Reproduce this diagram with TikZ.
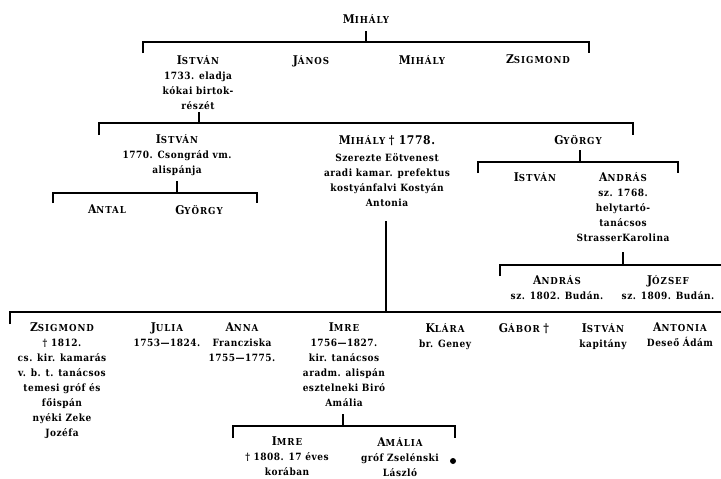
\documentclass[tikz,border=0pt]{standalone}
\usepackage{fontspec}
\setmainfont{DejaVu Serif Condensed}[LetterSpace=5]
\newfontfamily\nmfont{DejaVu Serif Condensed}[LetterSpace=10]
\newcommand\nm[2]{{\nmfont\bfseries\fontsize{12}{15}\selectfont #1\fontsize{9.6}{15}\selectfont #2}}
\newcommand\dgr[1]{{\fontsize{12}{15}\selectfont #1}}
\begin{document}
\begin{tikzpicture}[x=1pt,y=-1pt,
  person/.style={anchor=north, align=center, inner sep=0pt, font=\bfseries\fontsize{10}{15}\selectfont},
  tree/.style={line width=1.6pt, line join=miter}]
\useasboundingbox (0,0) rectangle (721,479);
% level 0
\node[person] (m0) at (366,14) {\nm{M}{IHÁLY}};
% level 1
\node[person] (i1) at (198,55) {\nm{I}{STVÁN}\\1733. eladja\\kókai birtok-\\részét};
\node[person] (j1) at (311,55) {\nm{J}{ÁNOS}};
\node[person] (m1) at (422,55) {\nm{M}{IHÁLY}};
\node[person] (z1) at (538,55) {\nm{Z}{SIGMOND}};
% level 2
\node[person] (i2) at (177,134) {\nm{I}{STVÁN}\\1770. Csongrád vm.\\alispánja};
\node[person] (m2) at (387,135) {\nm{M}{IHÁLY}~\dgr{† 1778.}\\[2pt]Szerezte Eötvenest\\aradi kamar. prefektus\\kostyánfalvi Kostyán\\Antonia};
\node[person] (g2) at (578,135) {\nm{G}{YÖRGY}};
% level 3
\node[person] (a3) at (107,205) {\nm{A}{NTAL}};
\node[person] (gy3) at (199,205) {\nm{G}{YÖRGY}};
\node[person] (i3) at (535,172) {\nm{I}{STVÁN}};
\node[person] (an3) at (623,172) {\nm{A}{NDRÁS}\\sz. 1768.\\helytartó-\\tanácsos\\StrasserKarolina};
% level 4
\node[person] (an4) at (557,275) {\nm{A}{NDRÁS}\\sz. 1802. Budán.};
\node[person] (j4) at (668,275) {\nm{J}{ÓZSEF}\\sz. 1809. Budán.};
% bottom row
\node[person] (z5) at (62,323) {\nm{Z}{SIGMOND}\\† 1812.\\cs. kir. kamarás\\v. b. t. tanácsos\\temesi gróf és\\főispán\\nyéki Zeke\\Jozéfa};
\node[person] (ju5) at (167,323) {\nm{J}{ULIA}\\1753—1824.};
\node[person] (an5) at (242,323) {\nm{A}{NNA}\\Francziska\\1755—1775.};
\node[person] (im5) at (344,323) {\nm{I}{MRE}\\1756—1827.\\kir. tanácsos\\aradm. alispán\\esztelneki Biró\\Amália};
\node[person] (k5) at (445,323) {\nm{K}{LÁRA}\\br. Geney};
\node[person] (g5) at (524,323) {\nm{G}{ÁBOR}~\dgr{†}};
\node[person] (is5) at (603,323) {\nm{I}{STVÁN}\\kapitány};
\node[person] (at5) at (680,323) {\nm{A}{NTONIA}\\Deseő Ádám};
% level 6
\node[person] (im6) at (287,437) {\nm{I}{MRE}\\† 1808. 17 éves\\korában};
\node[person] (am6) at (400,437) {\nm{A}{MÁLIA}\\gróf Zselénski\\László};
\fill (453,461) circle (3);
% connectors
\coordinate (s0) at (366,31);
\coordinate (b1a) at (143,53); \coordinate (b1b) at (143,42);
\coordinate (b1c) at (589,42); \coordinate (b1d) at (589,53);
\draw[tree] (s0) -- (s0 |- b1b);
\draw[tree] (b1a) -- (b1b) -- (b1c) -- (b1d);
\coordinate (s1) at (199,112);
\coordinate (b2a) at (99,135); \coordinate (b2b) at (99,123);
\coordinate (b2c) at (633,123); \coordinate (b2d) at (633,135);
\draw[tree] (s1) -- (s1 |- b2b);
\draw[tree] (b2a) -- (b2b) -- (b2c) -- (b2d);
\coordinate (s2) at (177,181);
\coordinate (b3a) at (53,203); \coordinate (b3b) at (53,193);
\coordinate (b3c) at (257,193); \coordinate (b3d) at (257,203);
\draw[tree] (s2) -- (s2 |- b3b);
\draw[tree] (b3a) -- (b3b) -- (b3c) -- (b3d);
\coordinate (s3) at (580,150);
\coordinate (b4a) at (478,173); \coordinate (b4b) at (478,162);
\coordinate (b4c) at (678,162); \coordinate (b4d) at (678,173);
\draw[tree] (s3) -- (s3 |- b4b);
\draw[tree] (b4a) -- (b4b) -- (b4c) -- (b4d);
\coordinate (s4) at (623,252);
\coordinate (b5a) at (500,276); \coordinate (b5b) at (500,265);
\coordinate (b5c) at (722,265);
\draw[tree] (s4) -- (s4 |- b5b);
\draw[tree] (b5a) -- (b5b) -- (b5c);
\coordinate (s5) at (386,221);
\coordinate (b6a) at (10,324); \coordinate (b6b) at (10,312);
\coordinate (b6c) at (722,312);
\draw[tree] (s5) -- (s5 |- b6b);
\draw[tree] (b6a) -- (b6b) -- (b6c);
\coordinate (s6) at (343,414);
\coordinate (b7a) at (233,438); \coordinate (b7b) at (233,426);
\coordinate (b7c) at (455,426); \coordinate (b7d) at (455,438);
\draw[tree] (s6) -- (s6 |- b7b);
\draw[tree] (b7a) -- (b7b) -- (b7c) -- (b7d);
\end{tikzpicture}
\end{document}
